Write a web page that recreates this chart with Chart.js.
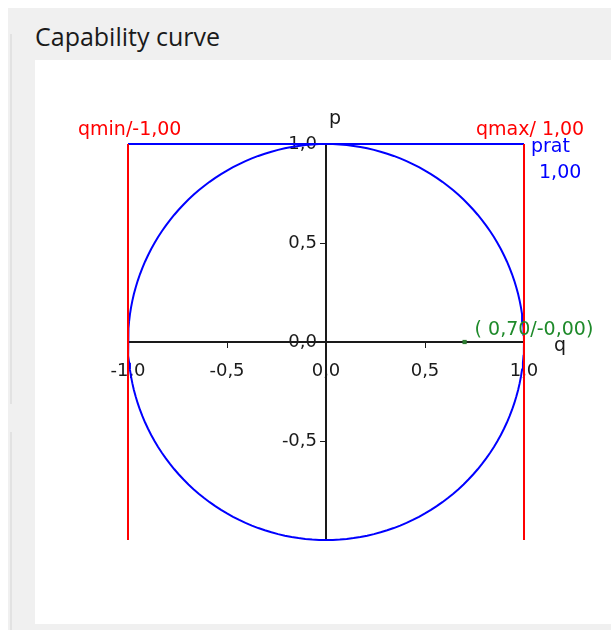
<!DOCTYPE html>
<html>
<head>
<meta charset="utf-8">
<title>Capability curve</title>
<script src="https://cdn.jsdelivr.net/npm/chart.js@4.4.1/dist/chart.umd.min.js"></script>
<style>
    html, body {
        margin: 0;
        padding: 0;
        width: 611px;
        height: 630px;
        background: #ffffff;
        overflow: hidden;
    }
    #panel {
        position: absolute;
        left: 8px;
        top: 8px;
        width: 603px;
        height: 622px;
        background: #f0f0f0;
    }
    #edge1, #edge2 {
        position: absolute;
        left: 2px;
        width: 2px;
        background: #e2e2e2;
    }
    #edge1 { top: 26px; height: 370px; }
    #edge2 { top: 424px; height: 198px; }
    #title {
        position: absolute;
        left: 27px;
        top: 12px;
        font-family: "Open Sans", sans-serif;
        font-size: 25px;
        line-height: 32px;
        color: #1a1a1a;
        white-space: nowrap;
    }
    #plot {
        position: absolute;
        left: 27px;
        top: 52px;
        width: 576px;
        height: 564px;
        background: #ffffff;
    }
</style>
</head>
<body>
<div id="panel">
    <div id="edge1"></div>
    <div id="edge2"></div>
    <div id="title">Capability curve</div>
    <div id="plot"><canvas id="kt_chart_capability" width="576" height="564"></canvas></div>
</div>
<script>
"use strict";

// Chart data
var qTicks = [-1.0, -0.5, 0.0, 0.5, 1.0];
var pTicks = [1.0, 0.5, 0.0, -0.5];     // -1,0 is not labelled
var qLimits = [-1.00, 1.00];            // qmin, qmax
var pRange = [-1.00, 1.00];             // span of the qmin / qmax lines
var pRated = 1.00;                      // prat
var sRated = 1.00;                      // radius of the capability circle
var opPoint = [0.70, -0.00];            // operating point (q / p)

// Colors and fonts
var redColor = '#ff0000';
var blueColor = '#0000ff';
var greenColor = '#1e8a2a';
var axisColor = '#1a1a1a';
var fontFamily = '"DejaVu Sans", sans-serif';

// Number format with decimal comma
var fmt = function (v, d) {
    return v.toFixed(d).replace('.', ',');
};

// Capability circle, built from the rated apparent power
var circlePoints = [];
for (var a = 0; a <= 360; a += 2) {
    var r = a * Math.PI / 180;
    circlePoints.push({ x: sRated * Math.cos(r), y: sRated * Math.sin(r) });
}

// Text annotations drawn at data positions
var labelsPlugin = {
    id: 'capabilityLabels',
    afterDatasetsDraw: function (chart) {
        var ctx = chart.ctx;
        var xs = chart.scales.x;
        var ys = chart.scales.y;

        ctx.save();
        ctx.font = '19px ' + fontFamily;
        ctx.textBaseline = 'middle';

        // qmin / qmax
        ctx.fillStyle = redColor;
        ctx.textAlign = 'left';
        ctx.fillText('qmin/' + fmt(qLimits[0], 2), xs.getPixelForValue(qLimits[0]) - 50, ys.getPixelForValue(pRange[1]) - 14);
        ctx.fillText('qmax/ ' + fmt(qLimits[1], 2), xs.getPixelForValue(qLimits[1]) - 48, ys.getPixelForValue(pRange[1]) - 14);

        // prat
        ctx.fillStyle = blueColor;
        ctx.fillText('prat', xs.getPixelForValue(qLimits[1]) + 7, ys.getPixelForValue(pRated) + 3);
        ctx.fillText(fmt(pRated, 2), xs.getPixelForValue(qLimits[1]) + 15, ys.getPixelForValue(pRated) + 29);

        // operating point
        ctx.fillStyle = greenColor;
        ctx.fillText('( ' + fmt(opPoint[0], 2) + '/-' + fmt(Math.abs(opPoint[1]), 2) + ')',
            xs.getPixelForValue(opPoint[0]) + 10, ys.getPixelForValue(opPoint[1]) - 12);

        // axis names
        ctx.fillStyle = axisColor;
        ctx.textAlign = 'center';
        ctx.fillText('p', xs.getPixelForValue(0) + 9, ys.getPixelForValue(pRange[1]) - 25);
        ctx.fillText('q', xs.getPixelForValue(qLimits[1]) + 36, ys.getPixelForValue(0) + 4);
        ctx.restore();
    }
};

var initCapabilityChart = function () {
    var canvas = document.getElementById('kt_chart_capability');
    if (!canvas) return;

    var ctx = canvas.getContext('2d');

    new Chart(ctx, {
        type: 'scatter',
        data: {
            datasets: [{
                label: 'Operating point',
                data: [{ x: opPoint[0], y: opPoint[1] }],
                backgroundColor: '#2e7d32',
                borderColor: '#2e7d32',
                pointStyle: 'rect',
                pointRadius: 3,
                borderWidth: 0
            }, {
                label: 'qmin',
                data: [{ x: qLimits[0], y: pRange[0] }, { x: qLimits[0], y: pRange[1] }],
                showLine: true,
                borderColor: redColor,
                borderWidth: 2,
                pointRadius: 0
            }, {
                label: 'qmax',
                data: [{ x: qLimits[1], y: pRange[0] }, { x: qLimits[1], y: pRange[1] }],
                showLine: true,
                borderColor: redColor,
                borderWidth: 2,
                pointRadius: 0
            }, {
                label: 'prat',
                data: [{ x: qLimits[0], y: pRated }, { x: qLimits[1], y: pRated }],
                showLine: true,
                borderColor: blueColor,
                borderWidth: 2,
                pointRadius: 0
            }, {
                label: 'Capability',
                data: circlePoints,
                showLine: true,
                borderColor: blueColor,
                borderWidth: 2,
                pointRadius: 0
            }]
        },
        options: {
            responsive: false,
            animation: false,
            clip: false,
            layout: {
                padding: { left: 93, top: 84, right: 87, bottom: 84 }
            },
            plugins: {
                legend: { display: false },
                tooltip: { enabled: false },
                title: { display: false }
            },
            scales: {
                x: {
                    type: 'linear',
                    min: qTicks[0],
                    max: qTicks[qTicks.length - 1],
                    position: { y: 0 },
                    afterBuildTicks: function (scale) {
                        scale.ticks = qTicks.map(function (v) { return { value: v }; });
                    },
                    grid: {
                        drawOnChartArea: false,
                        drawTicks: true,
                        tickLength: 5,
                        color: axisColor,
                        lineWidth: 1
                    },
                    border: { display: true, color: axisColor, width: 2 },
                    ticks: {
                        color: axisColor,
                        padding: 14,
                        maxRotation: 0,
                        font: { family: fontFamily, size: 18 },
                        callback: function (v) { return fmt(v, 1); }
                    }
                },
                y: {
                    type: 'linear',
                    min: pRange[0],
                    max: pRange[1],
                    position: { x: 0 },
                    afterBuildTicks: function (scale) {
                        scale.ticks = pTicks.map(function (v) { return { value: v }; });
                    },
                    grid: {
                        drawOnChartArea: false,
                        drawTicks: true,
                        tickLength: 5,
                        color: axisColor,
                        lineWidth: 1
                    },
                    border: { display: true, color: axisColor, width: 2 },
                    ticks: {
                        color: axisColor,
                        padding: 4,
                        font: { family: fontFamily, size: 18 },
                        // an en space keeps the label clear of the centred axis
                        callback: function (v) { return fmt(v, 1) + '\u2002'; }
                    }
                }
            }
        },
        plugins: [labelsPlugin]
    });
};

document.addEventListener('DOMContentLoaded', function () {
    if (typeof Chart !== 'undefined') {
        initCapabilityChart();
    } else {
        console.error('Chart.js not loaded');
    }
});
</script>
</body>
</html>
